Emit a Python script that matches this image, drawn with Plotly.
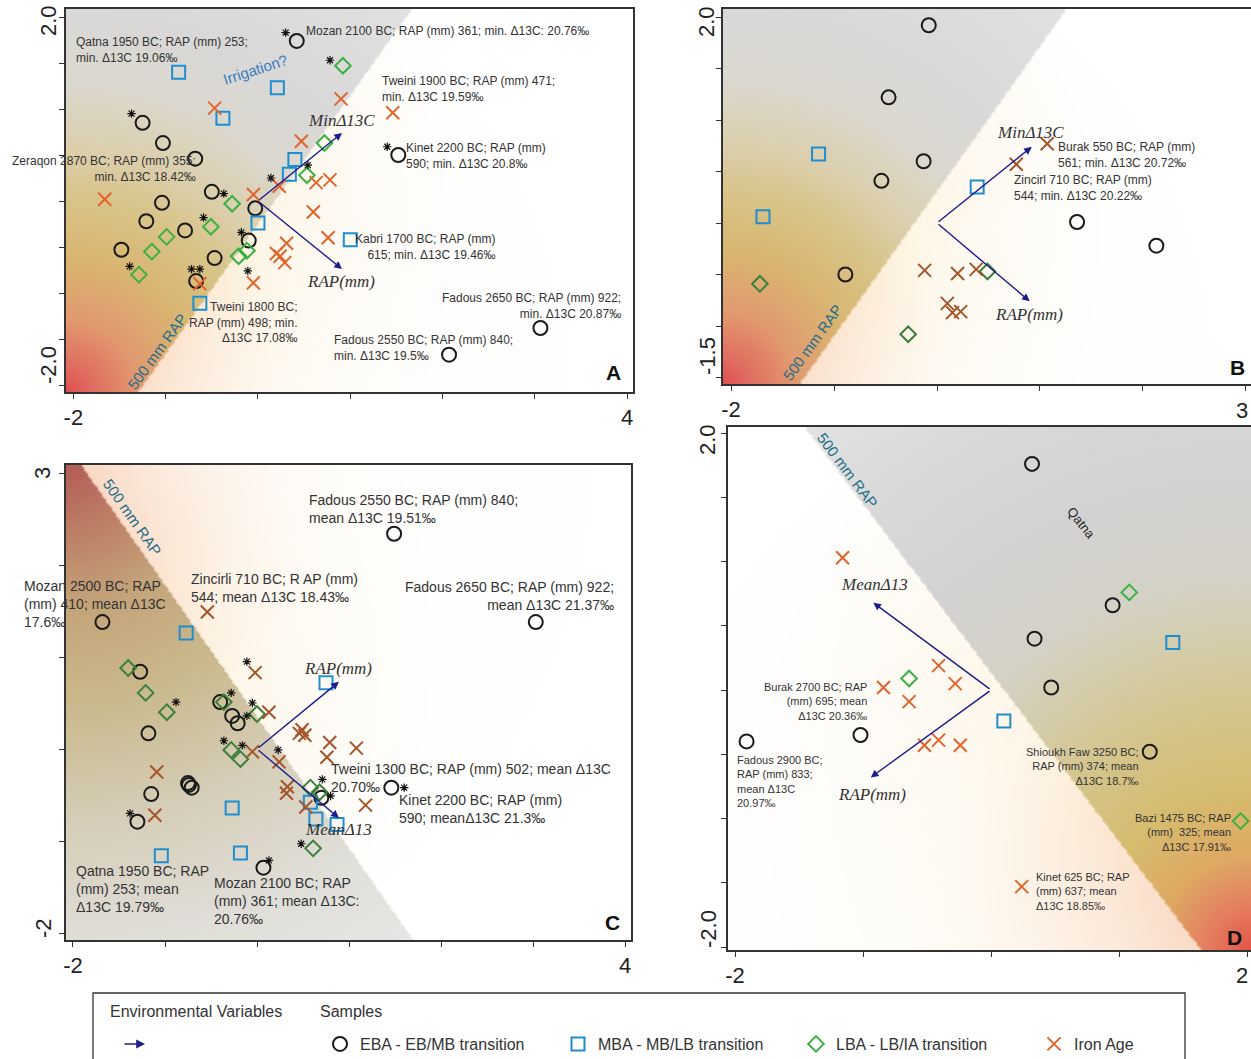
import numpy as np, base64, zlib, struct
import plotly.graph_objects as go

FW, FH = 1251, 1059
FONT = "Liberation Sans, Arial, sans-serif"
SERIF = "Liberation Serif, Times New Roman, serif"

CATEGORIES = ["EBA - EB/MB transition", "MBA - MB/LB transition", "LBA - LB/IA transition", "Iron Age"]

# ---------------- Panel A (min Δ13C) ----------------
A_EBA_X = [0.42, -1.25, -1.03, -0.68, -0.50, -1.04, -1.21, -0.79, -1.48, -0.47, -0.67, -0.10, -0.03, 1.52, 3.06, 2.07]
A_EBA_Y = [1.74, 0.85, 0.63, 0.46, 0.10, -0.02, -0.22, -0.32, -0.53, -0.62, -0.87, -0.43, -0.08, 0.50, -1.38, -1.67]
A_MBA_X = [-0.86, 0.21, -0.38, 0.40, 0.34, 0.00, 1.00, -0.63]
A_MBA_Y = [1.40, 1.23, 0.90, 0.45, 0.29, -0.24, -0.42, -1.11]
A_LBA_X = [0.92, 0.72, 0.53, -0.28, -0.51, -0.99, -1.15, -1.29, -0.21, -0.12]
A_LBA_Y = [1.47, 0.63, 0.28, -0.03, -0.28, -0.39, -0.55, -0.80, -0.60, -0.54]
A_IA_X = [-1.66, -0.47, 0.90, 1.46, 0.47, 0.23, 0.63, 0.78, -0.05, 0.60, 0.76, 0.31, 0.20, 0.24, 0.29, -0.05, -0.63]
A_IA_Y = [0.02, 1.01, 1.11, 0.96, 0.65, 0.16, 0.20, 0.23, 0.07, -0.12, -0.40, -0.46, -0.57, -0.60, -0.67, -0.89, -0.90]
A_STAR_X = [0.30, -1.37, -0.37, 0.78, 0.14, 0.54, -0.59, -0.18, -1.39, -0.72, -0.63, -0.11, 1.40]
A_STAR_Y = [1.83, 0.95, 0.08, 1.53, 0.25, 0.39, -0.18, -0.34, -0.71, -0.74, -0.74, -0.76, 0.59]
A_VEC_NAMES = ["MinΔ13C", "RAP(mm)"]
A_VEC_X = [0.91, 0.91]
A_VEC_Y = [0.74, -0.74]

# ---------------- Panel B ----------------
B_EBA_X = [-0.08, -0.47, -0.13, -0.54, 1.36, 2.13, -0.89]
B_EBA_Y = [1.92, 1.22, 0.60, 0.41, 0.01, -0.22, -0.50]
B_MBA_X = [-1.15, 0.39, -1.69]
B_MBA_Y = [0.67, 0.35, 0.06]
B_LBA_X = [-1.72, 0.49, -0.28]
B_LBA_Y = [-0.59, -0.47, -1.08]
B_IA_X = [1.07, 0.77, -0.12, 0.20, 0.38, 0.10, 0.15, 0.23]
B_IA_Y = [0.77, 0.57, -0.46, -0.49, -0.45, -0.78, -0.87, -0.86]
B_STAR_X, B_STAR_Y = [], []
B_VEC_NAMES = ["MinΔ13C", "RAP(mm)"]
B_VEC_X = [0.92, 0.90]
B_VEC_Y = [0.74, -0.76]

# ---------------- Panel C (mean Δ13C) ----------------
C_EBA_X = [-1.68, -1.27, -1.18, -0.40, -0.27, -0.21, -0.75, -0.71, -0.74, -1.15, -1.30, 0.70, 1.46, 0.07, 1.49, 3.03]
C_EBA_Y = [1.38, 0.84, 0.17, 0.51, 0.36, 0.28, -0.37, -0.42, -0.39, -0.49, -0.79, -0.53, -0.42, -1.29, 2.34, 1.38]
C_MBA_X = [-0.77, 0.75, -0.27, 0.58, 0.64, 0.87, -1.04, -0.18]
C_MBA_Y = [1.26, 0.72, -0.64, -0.58, -0.76, -0.82, -1.16, -1.13]
C_LBA_X = [-1.40, -1.21, -0.98, -0.36, 0.00, -0.28, -0.18, 0.58, 0.68, 0.61]
C_LBA_Y = [0.88, 0.61, 0.40, 0.51, 0.38, -0.01, -0.11, -0.42, -0.47, -1.08]
C_IA_X = [-0.54, -0.02, 0.13, -0.05, 0.24, 0.46, 0.52, 0.49, 0.79, 1.08, 0.76, -1.09, -1.11, 0.33, 0.32, 0.53, 1.18]
C_IA_Y = [1.49, 0.83, 0.40, -0.03, -0.14, 0.17, 0.15, 0.21, 0.07, 0.01, -0.09, -0.25, -0.72, -0.41, -0.48, -0.63, -0.61]
C_STAR_X = [-0.11, -0.88, -0.28, -0.11, -0.05, -0.36, -0.16, 0.23, 0.71, 0.80, 1.60, -1.38, 0.48, 0.13]
C_STAR_Y = [0.95, 0.51, 0.61, 0.36, 0.50, 0.09, 0.04, -0.01, -0.33, -0.51, -0.42, -0.70, -1.03, -1.21]
C_VEC_NAMES = ["RAP(mm)", "MeanΔ13"]
C_VEC_X = [0.89, 0.89]
C_VEC_Y = [0.73, -0.75]

# ---------------- Panel D ----------------
D_EBA_X = [0.32, 0.95, 0.34, 0.47, -1.02, -1.91, 1.24]
D_EBA_Y = [1.76, 0.66, 0.40, 0.02, -0.35, -0.40, -0.48]
D_MBA_X = [1.42, 0.10]
D_MBA_Y = [0.37, -0.24]
D_LBA_X = [1.08, -0.64, 1.95]
D_LBA_Y = [0.76, 0.09, -1.02]
D_IA_X = [-1.16, -0.41, -0.28, -0.84, -0.64, -0.52, -0.41, -0.24, 0.24]
D_IA_Y = [1.03, 0.19, 0.05, 0.02, -0.09, -0.43, -0.39, -0.43, -1.53]
D_STAR_X, D_STAR_Y = [], []
D_VEC_NAMES = ["MeanΔ13", "RAP(mm)"]
D_VEC_X = [-0.92, -0.94]
D_VEC_Y = [0.68, -0.68]

# 500 mm RAP boundary lines (data coords)
A_RAP500 = [(-1.30, -2.08), (1.67, 2.09)]
B_RAP500 = [(-1.33, -1.56), (1.26, 2.08)]
C_RAP500 = [(-1.90, 3.07), (1.70, -2.08)]
D_RAP500 = [(-1.45, 2.04), (1.64, -2.02)]


def px2paper(x, y):
    return x / FW, 1 - y / FH


def png_uri(rgb):
    rgb = np.ascontiguousarray(rgb.astype(np.uint8))
    h, w, _ = rgb.shape
    raw = b"".join(b"\x00" + rgb[i].tobytes() for i in range(h))

    def chunk(tag, data):
        return struct.pack(">I", len(data)) + tag + data + struct.pack(">I", zlib.crc32(tag + data) & 0xFFFFFFFF)

    png = (b"\x89PNG\r\n\x1a\n" + chunk(b"IHDR", struct.pack(">IIBBBBB", w, h, 8, 2, 0, 0, 0))
           + chunk(b"IDAT", zlib.compress(raw, 9)) + chunk(b"IEND", b""))
    return "data:image/png;base64," + base64.b64encode(png).decode()


def make_bg(Wp, Hp, xr, yr, line, red_corner, stops, wet_decay, wet_reach):
    def topx(x, y):
        return ((x - xr[0]) / (xr[1] - xr[0]) * Wp, (yr[1] - y) / (yr[1] - yr[0]) * Hp)
    (x1, y1), (x2, y2) = topx(*line[0]), topx(*line[1])
    red = {"bl": (0, Hp), "tl": (0, 0), "br": (Wp, Hp)}[red_corner]
    nx, ny = Wp // 2, Hp // 2
    xs = (np.arange(nx) + 0.5) * Wp / nx
    ys = (np.arange(ny) + 0.5) * Hp / ny
    X, Y = np.meshgrid(xs, ys)
    cross = (x2 - x1) * (Y - y1) - (y2 - y1) * (X - x1)
    rc = (x2 - x1) * (red[1] - y1) - (y2 - y1) * (red[0] - x1)
    dry = np.sign(cross) == np.sign(rc)
    L = np.hypot(x2 - x1, y2 - y1)
    dline = np.abs(cross) / L / Hp
    r = np.hypot(X - red[0], Y - red[1]) / Hp
    sr = [s[0] for s in stops]
    dry_rgb = np.stack([np.interp(r, sr, [s[1][k] for s in stops]) for k in range(3)], -1)
    peach = np.array([249, 214, 194.0])
    cream = np.array([254, 243, 222.0])
    t = np.clip(r / 0.6, 0, 1)[..., None]
    tint = peach * (1 - t) + cream * t
    w = (np.exp(-dline / wet_decay) * np.clip((wet_reach - r) / 0.8, 0, 1))[..., None]
    wet_rgb = 255 * (1 - w) + tint * w
    return np.where(dry[..., None], dry_rgb, wet_rgb)


STOPS_AB = [(0, (226, 78, 78)), (0.06, (224, 106, 96)), (0.19, (226, 154, 112)), (0.34, (218, 181, 112)),
            (0.5, (216, 196, 136)), (0.63, (220, 207, 172)), (0.8, (219, 216, 206)), (1.0, (217, 217, 217)),
            (1.3, (224, 224, 224)), (1.6, (233, 233, 233))]
STOPS_C = [(0, (180, 92, 88)), (0.12, (188, 122, 100)), (0.3, (196, 165, 122)), (0.5, (202, 185, 140)),
           (0.75, (214, 206, 185)), (1.0, (224, 222, 216)), (1.3, (233, 233, 233))]
STOPS_D = [(0, (228, 85, 75)), (0.08, (230, 125, 95)), (0.18, (222, 170, 100)), (0.3, (214, 188, 110)),
           (0.5, (212, 200, 150)), (0.7, (213, 210, 198)), (0.9, (211, 211, 211)), (1.1, (217, 217, 217)),
           (1.4, (230, 230, 230))]

panels = [
    dict(key="A", box=(66, 9, 633, 392), xr=[-2.08, 4.063], yr=[-2.076, 2.087],
         xt=[-2, -1, 0, 1, 2, 3, 4], xl={-2: "-2", 4: "4"}, xextra=None,
         yt=[-2, -1.5, -1, -0.5, 0, 0.5, 1, 1.5, 2], ylab=[("2.0", 48, 21), ("-2.0", 48, 365)],
         data=[(A_EBA_X, A_EBA_Y), (A_MBA_X, A_MBA_Y), (A_LBA_X, A_LBA_Y), (A_IA_X, A_IA_Y)],
         stars=(A_STAR_X, A_STAR_Y), vec=(A_VEC_NAMES, A_VEC_X, A_VEC_Y), line=A_RAP500,
         red="bl", stops=STOPS_AB, wet=(0.35, 1.3), green="#3cb043", orange="#e0642c",
         rap_label=(-1.09, -1.64, -54), letter=(613, 373)),
    dict(key="B", box=(723, 9, 1251, 384), xr=[-2.078, 3.049], yr=[-1.563, 2.078],
         xt=[-2, -1, 0, 1, 2, 3], xl={-2: "-2"}, xextra=("3", 1250, 410),
         yt=[-1.5, -1, -0.5, 0, 0.5, 1, 1.5, 2], ylab=[("2.0", 707, 22), ("-1.5", 707, 356)],
         data=[(B_EBA_X, B_EBA_Y), (B_MBA_X, B_MBA_Y), (B_LBA_X, B_LBA_Y), (B_IA_X, B_IA_Y)],
         stars=(B_STAR_X, B_STAR_Y), vec=(B_VEC_NAMES, B_VEC_X, B_VEC_Y), line=B_RAP500,
         red="bl", stops=STOPS_AB, wet=(0.35, 1.3), green="#3c7f3c", orange="#a4552a",
         rap_label=(-1.21, -1.16, -54), letter=(1237, 367)),
    dict(key="C", box=(66, 465, 631, 940), xr=[-2.076, 4.065], yr=[-2.076, 3.087],
         xt=[-2, -1, 0, 1, 2, 3, 4], xl={-2: "-2", 4: "4"}, xextra=None,
         yt=[-2, -1, 0, 1, 2, 3], ylab=[("3", 43, 473), ("-2", 43, 928)],
         data=[(C_EBA_X, C_EBA_Y), (C_MBA_X, C_MBA_Y), (C_LBA_X, C_LBA_Y), (C_IA_X, C_IA_Y)],
         stars=(C_STAR_X, C_STAR_Y), vec=(C_VEC_NAMES, C_VEC_X, C_VEC_Y), line=C_RAP500,
         red="tl", stops=STOPS_C, wet=(0.3, 1.1), green="#3c7f3c", orange="#a4552a",
         rap_label=(-1.35, 2.52, 55), letter=(612, 922)),
    dict(key="D", box=(728, 427, 1251, 950), xr=[-2.055, 2.031], yr=[-2.023, 2.047],
         xt=[-2, -1, 0, 1, 2], xl={-2: "-2"}, xextra=("2", 1250, 975),
         yt=[-2, -1.5, -1, -0.5, 0, 0.5, 1, 1.5, 2], ylab=[("2.0", 708, 440), ("-2.0", 708, 929)],
         data=[(D_EBA_X, D_EBA_Y), (D_MBA_X, D_MBA_Y), (D_LBA_X, D_LBA_Y), (D_IA_X, D_IA_Y)],
         stars=(D_STAR_X, D_STAR_Y), vec=(D_VEC_NAMES, D_VEC_X, D_VEC_Y), line=D_RAP500,
         red="br", stops=STOPS_D, wet=(0.4, 1.2), green="#3cb043", orange="#e0642c",
         rap_label=(-1.12, 1.71, 53), letter=(1234, 937)),
]

fig = go.Figure()
layout = dict(width=FW, height=FH, margin=dict(l=0, r=0, t=0, b=0, autoexpand=False),
              paper_bgcolor="white", plot_bgcolor="rgba(0,0,0,0)", hovermode=False,
              font=dict(family=FONT, color="#333"))
images, shapes, annotations = [], [], []
NAVY = "#1c1c8c"
RAPBLUE = "#2b7ea1"

for i, p in enumerate(panels):
    sfx = "" if i == 0 else str(i + 1)
    xa, ya = "x" + sfx, "y" + sfx
    l, t, r, b = p["box"]
    x0p, y1p = px2paper(l, t)
    x1p, y0p = px2paper(r, b)
    axis_common = dict(showgrid=False, zeroline=False, showline=True, linecolor="#333", linewidth=1.5,
                       mirror=True, ticks="outside", ticklen=5, tickwidth=1.2, tickcolor="#333",
                       tickfont=dict(size=22, color="#222", family=FONT), fixedrange=True, automargin=False,
                       ticklabeloverflow="allow")
    layout["xaxis" + sfx] = dict(domain=[x0p, min(x1p, 1.0)], range=p["xr"], anchor=ya,
                                 tickvals=p["xt"], ticktext=[p["xl"].get(v, "") for v in p["xt"]], **axis_common)
    layout["yaxis" + sfx] = dict(domain=[y0p, y1p], range=p["yr"], anchor=xa, tickvals=p["yt"],
                                 showticklabels=False, **axis_common)
    # right-most x label sitting at the figure edge (kept fully visible)
    if p["xextra"]:
        txt, ex_, ey_ = p["xextra"]
        qx, qy = px2paper(ex_, ey_)
        annotations.append(dict(xref="paper", yref="paper", x=qx, y=qy, text=txt, showarrow=False,
                                xanchor="right", yanchor="middle",
                                font=dict(size=22, color="#222", family=FONT)))
    # y-axis end labels (rotated, placed inside the axis extent as in the original)
    for txt, lxp, lyp in p["ylab"]:
        qx, qy = px2paper(lxp, lyp)
        annotations.append(dict(xref="paper", yref="paper", x=qx, y=qy, text=txt, showarrow=False,
                                xanchor="center", yanchor="middle", textangle=-90,
                                font=dict(size=22, color="#222", family=FONT)))

    # gradient background
    bg = make_bg(int(r - l), int(b - t), p["xr"], p["yr"], p["line"], p["red"], p["stops"], *p["wet"])
    images.append(dict(source=png_uri(bg), xref=xa, yref=ya, x=p["xr"][0], y=p["yr"][1],
                       sizex=p["xr"][1] - p["xr"][0], sizey=p["yr"][1] - p["yr"][0],
                       sizing="stretch", xanchor="left", yanchor="top", layer="below"))

    # crosshair dotted lines
    shapes.append(dict(type="line", xref=xa, yref=ya, x0=0, x1=0, y0=p["yr"][0], y1=p["yr"][1],
                       line=dict(color="#9a9a9a", width=1, dash="dot"), layer="below"))
    shapes.append(dict(type="line", xref=xa, yref=ya, y0=0, y1=0, x0=p["xr"][0], x1=p["xr"][1],
                       line=dict(color="#9a9a9a", width=1, dash="dot"), layer="below"))
    # 500 mm RAP line
    (lx0, ly0), (lx1, ly1) = p["line"]
    shapes.append(dict(type="line", xref=xa, yref=ya, x0=lx0, y0=ly0, x1=lx1, y1=ly1,
                       line=dict(color=RAPBLUE, width=1.3, dash="dash"), layer="below"))
    rx, ry, ra = p["rap_label"]
    annotations.append(dict(xref=xa, yref=ya, x=rx, y=ry, text="500 mm RAP", showarrow=False, textangle=ra,
                            xanchor="center", yanchor="middle",
                            font=dict(size=15, color="#1f6e8c", family=FONT)))

    # sample traces
    colors = ["#1a1a1a", "#1f8ecf", p["green"], p["orange"]]
    symbols = ["circle-open", "square-open", "diamond-open", "x-thin"]
    sizes = [14, 13, 12, 13]
    for k, (xs, ys) in enumerate(p["data"]):
        mk = dict(symbol=symbols[k], size=sizes[k], color=colors[k], line=dict(width=2, color=colors[k]))
        fig.add_trace(go.Scatter(x=xs, y=ys, mode="markers", name=CATEGORIES[k], marker=mk,
                                 xaxis=xa, yaxis=ya, showlegend=(i == 0), legendgroup=CATEGORIES[k]))
    sx, sy = p["stars"]
    if sx:
        fig.add_trace(go.Scatter(x=sx, y=sy, mode="markers", showlegend=False, xaxis=xa, yaxis=ya,
                                 marker=dict(symbol="asterisk-open", size=7, color="#111",
                                             line=dict(width=1.2, color="#111"))))
    # environmental vectors
    names, vx, vy = p["vec"]
    for n, ex, ey in zip(names, vx, vy):
        annotations.append(dict(xref=xa, yref=ya, axref=xa, ayref=ya, x=ex, y=ey, ax=0, ay=0, text="",
                                showarrow=True, arrowhead=2, arrowsize=1.1, arrowwidth=1.4, arrowcolor=NAVY))
        annotations.append(dict(xref=xa, yref=ya, x=ex * 0.99, y=ey + (0.14 if ey > 0 else -0.13),
                                text="<i>" + n + "</i>", showarrow=False, xanchor="center", yanchor="middle",
                                font=dict(size=17, color="#333", family=SERIF)))
    lx, ly = px2paper(*p["letter"])
    annotations.append(dict(xref="paper", yref="paper", x=lx, y=ly, text="<b>" + p["key"] + "</b>",
                            showarrow=False, xanchor="center", yanchor="middle",
                            font=dict(size=21, color="#111", family=FONT)))


def ellipse_path(cx, cy, a, b, ang_deg, n=72):
    th = np.radians(ang_deg)
    tt = np.linspace(0, 2 * np.pi, n, endpoint=False)
    xs = cx + a * np.cos(tt) * np.cos(th) - b * np.sin(tt) * np.sin(th)
    ys = cy + a * np.cos(tt) * np.sin(th) + b * np.sin(tt) * np.cos(th)
    return "M " + " L ".join(f"{x:.4f},{y:.4f}" for x, y in zip(xs, ys)) + " Z"


shapes.append(dict(type="path", xref="x", yref="y", path=ellipse_path(-0.03, 1.40, 1.08, 0.54, 13),
                   fillcolor="rgba(150,190,222,0.45)", line=dict(color="#5b9bd5", width=1.8, dash="dashdot"),
                   layer="below"))
annotations.append(dict(xref="x", yref="y", x=-0.03, y=1.43, text="Irrigation?", showarrow=False, textangle=-18,
                        font=dict(size=15, color="#3a7cc0", family=FONT)))
shapes.append(dict(type="path", xref="x4", yref="y4", path=ellipse_path(0.87, 1.08, 1.05, 0.24, -50),
                   line=dict(color="#111", width=1.6, dash="dash"), layer="below"))
annotations.append(dict(xref="x4", yref="y4", x=0.70, y=1.30, text="Qatna", showarrow=False, textangle=52,
                        font=dict(size=13, color="#222", family=FONT)))


def note(text, px, py, anchor="left", size=12):
    x, y = px2paper(px, py)
    annotations.append(dict(xref="paper", yref="paper", x=x, y=y, text=text, showarrow=False,
                            xanchor=anchor, yanchor="top", align=anchor,
                            font=dict(size=size, color="#333", family=FONT)))


# Panel A labels
note("Qatna 1950 BC; RAP (mm) 253;<br>min. Δ13C 19.06‰", 74, 33)
note("Mozan 2100 BC; RAP (mm) 361; min. Δ13C: 20.76‰", 304, 22)
note("Tweini 1900 BC; RAP (mm) 471;<br>min. Δ13C 19.59‰", 380, 72)
note("Zeraqon 2870 BC; RAP (mm) 355;<br>min. Δ13C 18.42‰", 198, 152, "right")
note("Kinet 2200 BC; RAP (mm)<br>590; min. Δ13C 20.8‰", 404, 139)
note("Kabri 1700 BC; RAP (mm)<br>615; min. Δ13C 19.46‰", 498, 230, "right")
note("Fadous 2650 BC; RAP (mm) 922;<br>min. Δ13C 20.87‰", 623, 289, "right")
note("Fadous 2550 BC; RAP (mm) 840;<br>min. Δ13C 19.5‰", 332, 331)
note("Tweini 1800 BC;<br>RAP (mm) 498; min.<br>Δ13C 17.08‰", 299, 298, "right")
# Panel B labels
note("Burak 550 BC; RAP (mm)<br>561; min. Δ13C 20.72‰", 1056, 138)
note("Zincirl 710 BC; RAP (mm)<br>544; min. Δ13C 20.22‰", 1012, 171)
# Panel C labels
note("Fadous 2550 BC; RAP (mm) 840;<br>mean Δ13C 19.51‰", 307, 490, size=14)
note("Fadous 2650 BC; RAP (mm) 922;<br>mean Δ13C 21.37‰", 616, 577, "right", size=14)
note("Mozan 2500 BC; RAP<br>(mm) 410; mean Δ13C<br>17.6‰", 22, 576, size=14)
note("Zincirli 710 BC; R AP (mm)<br>544; mean Δ13C 18.43‰", 189, 569, size=14)
note("Tweini 1300 BC; RAP (mm) 502; mean Δ13C<br>20.70‰", 329, 759, size=14)
note("Kinet 2200 BC; RAP (mm)<br>590; meanΔ13C 21.3‰", 397, 790, size=14)
note("Qatna 1950 BC; RAP<br>(mm) 253; mean<br>Δ13C 19.79‰", 74, 861, size=14)
note("Mozan 2100 BC; RAP<br>(mm) 361; mean Δ13C:<br>20.76‰", 212, 873, size=14)
# Panel D labels
note("Burak 2700 BC; RAP<br>(mm) 695; mean<br>Δ13C 20.36‰", 869, 679, "right", size=11)
note("Fadous 2900 BC;<br>RAP (mm) 833;<br>mean Δ13C<br>20.97‰", 735, 752, size=11)
note("Shioukh Faw 3250 BC;<br>RAP (mm) 374; mean<br>Δ13C 18.7‰", 1141, 744, "right", size=11)
note("Bazi 1475 BC; RAP<br>(mm)  325; mean<br>Δ13C 17.91‰", 1233, 810, "right", size=11)
note("Kinet 625 BC; RAP<br>(mm) 637; mean<br>Δ13C 18.85‰", 1034, 869, size=11)

# Legend box and headers
bx0, by0 = px2paper(93, 993)
bx1, by1 = px2paper(1185, 1075)
shapes.append(dict(type="rect", xref="paper", yref="paper", x0=bx0, y0=by1, x1=bx1, y1=by0,
                   line=dict(color="#333", width=1.3), fillcolor="rgba(0,0,0,0)"))
note("Environmental Variables", 108, 1001, size=16)
note("Samples", 318, 1001, size=16)
ax_, ay_ = px2paper(145, 1044)
annotations.append(dict(xref="paper", yref="paper", x=ax_, y=ay_, ax=-22, ay=0, axref="pixel", ayref="pixel",
                        text="", showarrow=True, arrowhead=2, arrowsize=1.1, arrowwidth=1.6, arrowcolor=NAVY))

lgx, lgy = px2paper(320, 1044)
layout["legend"] = dict(orientation="h", x=lgx, y=lgy, xanchor="left", yanchor="middle",
                        font=dict(size=16, color="#333", family=FONT), bgcolor="rgba(0,0,0,0)",
                        entrywidth=193, entrywidthmode="pixels", traceorder="normal", itemclick=False,
                        itemdoubleclick=False)
layout["showlegend"] = True
layout["images"] = images
layout["shapes"] = shapes
layout["annotations"] = annotations
fig.update_layout(**layout)

fig.write_html("out.html", config={"displayModeBar": False},
               post_script="document.body.style.margin='0px';")
